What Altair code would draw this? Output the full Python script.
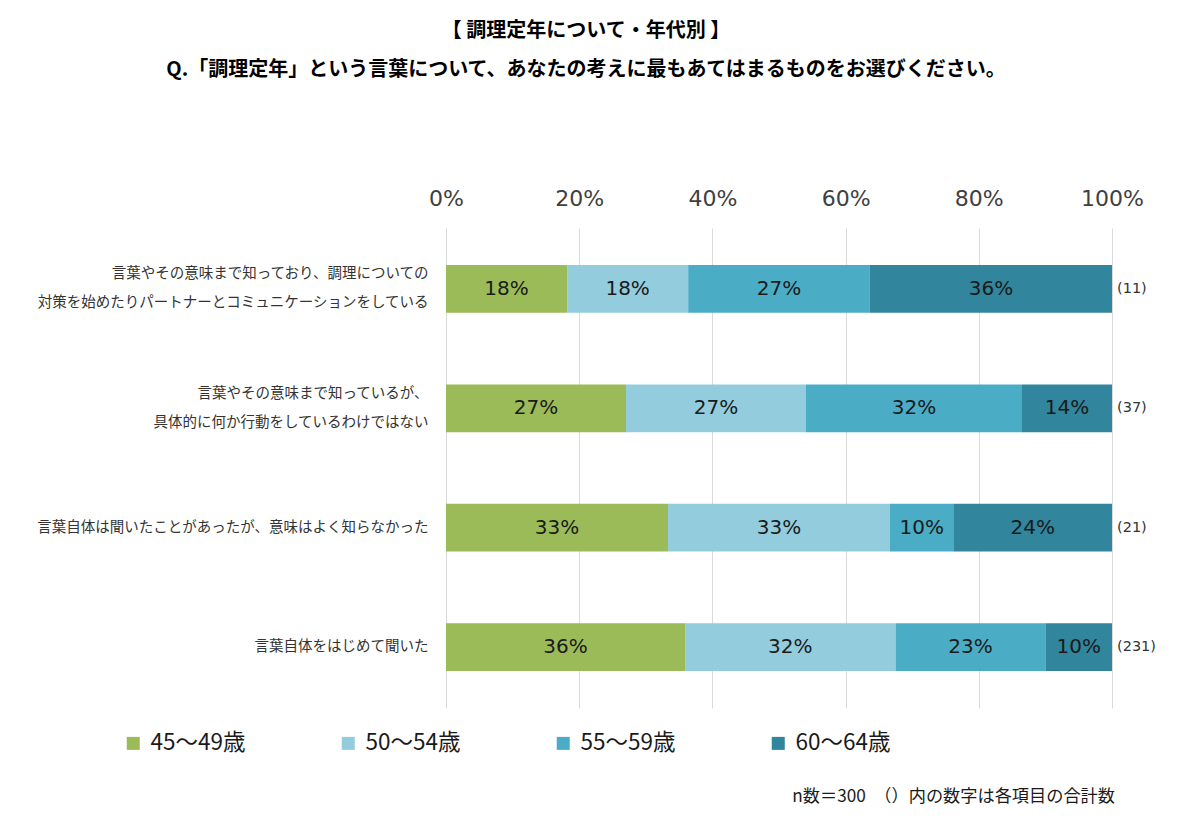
import altair as alt
import pandas as pd

title_line1 = "【 調理定年について・年代別 】"
title_line2 = "Q.「調理定年」という言葉について、あなたの考えに最もあてはまるものをお選びください。"
footnote = "n数＝300　（）内の数字は各項目の合計数"

categories = [
    "言葉やその意味まで知っており、調理についての|対策を始めたりパートナーとコミュニケーションをしている",
    "言葉やその意味まで知っているが、|具体的に何か行動をしているわけではない",
    "言葉自体は聞いたことがあったが、意味はよく知らなかった",
    "言葉自体をはじめて聞いた",
]
series = ["45～49歳", "50～54歳", "55～59歳", "60～64歳"]
colors = ["#9BBB59", "#93CDDD", "#4BACC6", "#31859C"]

s_45_49 = [18.2, 27.0, 33.3, 35.9]
s_50_54 = [18.2, 27.0, 33.3, 31.6]
s_55_59 = [27.3, 32.4, 9.5, 22.5]
s_60_64 = [36.4, 13.5, 23.8, 10.0]
counts = [11, 37, 21, 231]

tick_values = [0, 0.2, 0.4, 0.6, 0.8, 1.0]

rows = []
for si, (name, vals) in enumerate(zip(series, [s_45_49, s_50_54, s_55_59, s_60_64])):
    for c, v in zip(categories, vals):
        rows.append({"cat": c, "series": name, "idx": si, "value": v})
df = pd.DataFrame(rows)
df_counts = pd.DataFrame({"cat": categories, "n": [f"({n})" for n in counts]})

JP = "Noto Sans CJK JP"
NUM = "DejaVu Sans"

y_enc = alt.Y(
    "cat:N",
    sort=categories,
    scale=alt.Scale(paddingInner=0.6, paddingOuter=0.31),
    axis=alt.Axis(
        title=None,
        labelExpr="split(datum.label, '|')",
        labelFont=JP,
        labelFontSize=14.5,
        labelLineHeight=29,
        labelColor="#333333",
        labelPadding=18,
        labelLimit=600,
        labelOffset={"condition": {"test": "indexof(datum.value, '|') >= 0", "value": -14.5}, "value": 0},
        ticks=False,
        domain=False,
        grid=False,
    ),
)

bars = alt.Chart(df).mark_bar().encode(
    y=y_enc,
    x=alt.X(
        "value:Q",
        stack="normalize",
        axis=alt.Axis(
            orient="top",
            title=None,
            format=".0%",
            values=tick_values,
            labelFont=NUM,
            labelFontSize=22,
            labelColor="#404040",
            labelPadding=18,
            labelFlush=False,
            grid=True,
            gridColor="#d9d9d9",
            gridWidth=1,
            domain=False,
            ticks=False,
        ),
    ),
    color=alt.Color(
        "series:N",
        scale=alt.Scale(domain=series, range=colors),
        legend=alt.Legend(
            title=None,
            orient="none",
            legendX=-324,
            legendY=504,
            direction="horizontal",
            symbolType="square",
            symbolSize=169,
            symbolStrokeWidth=0,
            labelFont=JP,
            labelFontSize=22.5,
            labelColor="#1a1a1a",
            labelOffset=6,
            columnPadding=91,
        ),
    ),
    order=alt.Order("idx:Q"),
)

labels = (
    alt.Chart(df)
    .transform_stack(
        stack="value",
        groupby=["cat"],
        as_=["v0", "v1"],
        offset="normalize",
        sort=[alt.SortField("idx", order="ascending")],
    )
    .transform_calculate(mid="(datum.v0 + datum.v1) / 2", label="format(datum.value, '.0f') + '%'")
    .mark_text(font=NUM, fontSize=20, color="#1a1a1a")
    .encode(x=alt.X("mid:Q"), y=alt.Y("cat:N", sort=categories), text="label:N")
)

count_text = (
    alt.Chart(df_counts)
    .mark_text(font=NUM, fontSize=14.5, color="#333333", align="left")
    .encode(x=alt.value(671), y=alt.Y("cat:N", sort=categories), text="n:N")
)

t1 = alt.Chart(pd.DataFrame({"t": [title_line1]})).mark_text(
    font=JP, fontSize=20, fontWeight="bold", color="#000000", align="center", baseline="middle"
).encode(x=alt.value(140), y=alt.value(-197), text="t:N")

t2 = alt.Chart(pd.DataFrame({"t": [title_line2]})).mark_text(
    font=JP, fontSize=20, fontWeight="bold", color="#000000", align="center", baseline="middle"
).encode(x=alt.value(140), y=alt.value(-158), text="t:N")

foot = alt.Chart(pd.DataFrame({"t": [footnote]})).mark_text(
    font=JP, fontSize=17.2, color="#1a1a1a", align="right", baseline="middle"
).encode(x=alt.value(669), y=alt.value(569), text="t:N")

chart = (
    alt.layer(bars, labels, count_text, t1, t2, foot)
    .properties(
        width=666,
        height=480,
        autosize="none",
        padding={"left": 446, "top": 228, "right": 88, "bottom": 124},
        background="white",
    )
    .configure_view(stroke=None)
)

chart.save("out.html", embed_options={"renderer": "svg", "actions": False})
